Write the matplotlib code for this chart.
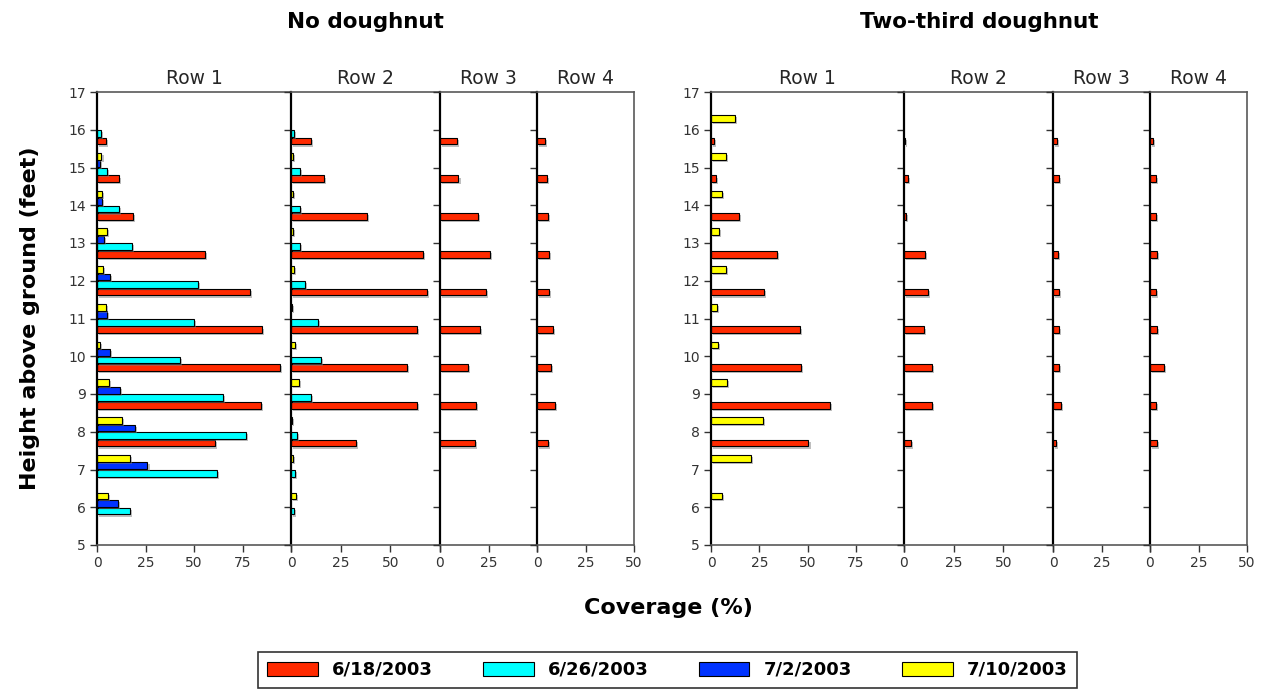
import matplotlib
matplotlib.use('Agg')
import matplotlib.pyplot as plt
import matplotlib.patheffects as pe
from matplotlib.patches import Patch
import numpy as np

plt.rcParams['font.family'] = ['DejaVu Sans']

# heights above ground (ft), top to bottom
heights = [16, 15, 14, 13, 12, 11, 10, 9, 8, 7, 6]
dates = ['6/18/2003', '6/26/2003', '7/2/2003', '7/10/2003']
colors = ['#ff2a00', '#00ffff', '#0033ff', '#ffff00']
offsets = [-0.3, -0.1, 0.1, 0.3]

# No doughnut
nd_row1_red = [4.5, 11.2, 18.3, 55.6, 79.0, 85.1, 94.4, 84.3, 60.8, 0, 0]
nd_row1_cyan = [2.1, 5.0, 11.2, 17.9, 51.9, 50.2, 42.8, 64.9, 76.7, 61.8, 17.1]
nd_row1_blue = [0, 1.5, 2.5, 3.7, 6.8, 5.1, 6.8, 11.7, 19.8, 26.0, 10.7]
nd_row1_yellow = [0, 2.3, 2.7, 4.9, 3.0, 4.4, 1.6, 6.1, 13.0, 17.2, 5.6]

nd_row2_red = [9.9, 16.6, 38.4, 66.2, 68.3, 63.4, 58.3, 63.2, 32.6, 0, 0]
nd_row2_cyan = [1.7, 4.3, 4.3, 4.5, 6.8, 13.5, 15.1, 10.1, 3.1, 2.2, 1.7]
nd_row2_blue = [0, 0, 0, 0, 0, 0, 0, 0, 0, 0, 0]
nd_row2_yellow = [0, 1.2, 0.8, 1.2, 1.7, 0.6, 1.8, 3.9, 0.6, 1.0, 2.7]

nd_row3_red = [8.8, 9.5, 19.6, 25.9, 23.9, 20.8, 14.2, 18.5, 18.2, 0, 0]
nd_row4_red = [3.9, 4.9, 5.6, 6.2, 6.2, 8.2, 7.0, 9.2, 5.8, 0, 0]

# Two-third doughnut
td_row1_red = [1.6, 2.6, 14.7, 34.2, 27.3, 46.3, 46.8, 61.5, 50.5, 0, 0]
td_row1_yellow = [12.6, 7.8, 5.5, 4.1, 7.8, 3.1, 3.8, 8.5, 27.1, 20.9, 5.7]
td_row2_red = [0.7, 1.9, 1.2, 10.4, 11.9, 10.2, 14.3, 14.0, 3.5, 0, 0]
td_row3_red = [1.9, 2.9, 0, 2.6, 2.9, 3.1, 3.1, 4.1, 1.4, 0, 0]
td_row4_red = [1.7, 3.0, 3.1, 3.5, 3.1, 3.6, 7.4, 3.3, 3.8, 0, 0]

zeros = [0] * len(heights)

W, H = 1266, 689
fig = plt.figure(figsize=(W / 100, H / 100), dpi=100)

def px_axes(x0, x1, y0=92, y1=545):
    return fig.add_axes([x0 / W, 1 - y1 / H, (x1 - x0) / W, (y1 - y0) / H])

shadow = [pe.SimplePatchShadow(offset=(1.5, -1.5), shadow_rgbFace='0.5', alpha=0.5), pe.Normal()]

def draw_panel(ax, series, xmax, last=False, first=False, title=''):
    y = np.array(heights, dtype=float)
    for vals, col, off in zip(series, colors, offsets):
        vals = np.array(vals, dtype=float)
        m = vals > 0
        bars = ax.barh(y[m] + off, vals[m], height=0.18, color=col,
                       edgecolor='black', linewidth=0.8)
        for b in bars:
            b.set_path_effects(shadow)
    ax.set_xlim(0, xmax)
    ax.set_ylim(5, 17)
    ax.set_yticks(range(5, 18))
    ticks = list(range(0, int(xmax) + 1, 25))
    ax.set_xticks(ticks)
    labels = [str(t) for t in ticks]
    if not last:
        labels[-1] = ''
    ax.set_xticklabels(labels)
    if not first:
        ax.set_yticklabels([])
    ax.tick_params(axis='both', direction='out', length=5, width=1,
                   labelsize=10, color='0.2', labelcolor='0.2', pad=3)
    for s in ['top', 'bottom', 'right']:
        ax.spines[s].set_color('0.35')
        ax.spines[s].set_linewidth(1.2)
    ax.spines['left'].set_color('black')
    ax.spines['left'].set_linewidth(1.6)
    if not last:
        ax.spines['right'].set_visible(False)
    ax.set_title(title, fontsize=13.5, color='0.15', pad=6)

nd_series = [
    (nd_row1_red, nd_row1_cyan, nd_row1_blue, nd_row1_yellow),
    (nd_row2_red, nd_row2_cyan, nd_row2_blue, nd_row2_yellow),
    (nd_row3_red, zeros, zeros, zeros),
    (nd_row4_red, zeros, zeros, zeros),
]
td_series = [
    (td_row1_red, zeros, zeros, td_row1_yellow),
    (td_row2_red, zeros, zeros, zeros),
    (td_row3_red, zeros, zeros, zeros),
    (td_row4_red, zeros, zeros, zeros),
]
xmaxes = [100, 75, 50, 50]
left_edges = [(97, 291), (291, 440), (440, 537), (537, 634)]
right_edges = [(711, 904), (904, 1053), (1053, 1150), (1150, 1247)]

for i in range(4):
    ax = px_axes(*left_edges[i])
    draw_panel(ax, nd_series[i], xmaxes[i], last=(i == 3), first=(i == 0), title='Row %d' % (i + 1))
    ax = px_axes(*right_edges[i])
    draw_panel(ax, td_series[i], xmaxes[i], last=(i == 3), first=(i == 0), title='Row %d' % (i + 1))

fig.text(365 / W, 1 - 22 / H, 'No doughnut', ha='center', va='center', fontsize=15.5, fontweight='bold')
fig.text(979 / W, 1 - 22 / H, 'Two-third doughnut', ha='center', va='center', fontsize=15.5, fontweight='bold')
fig.text(30 / W, 1 - 318 / H, 'Height above ground (feet)', ha='center', va='center',
         rotation=90, fontsize=16, fontweight='bold')
fig.text(668 / W, 1 - 608 / H, 'Coverage (%)', ha='center', va='center', fontsize=16, fontweight='bold')

handles = [Patch(facecolor=c, edgecolor='black', linewidth=0.8) for c in colors]
leg = fig.legend(handles, dates, loc='lower left', ncol=4, mode='expand',
                 bbox_to_anchor=(258 / W, 1 - 688 / H, 819 / W, 36 / H),
                 prop={'size': 13, 'weight': 'bold'}, frameon=True, fancybox=False,
                 handlelength=2.8, handleheight=0.8, handletextpad=0.8,
                 borderpad=0.5, borderaxespad=0)
leg.get_frame().set_edgecolor('black')
leg.get_frame().set_linewidth(1.2)

fig.savefig('out.png', dpi=100)
